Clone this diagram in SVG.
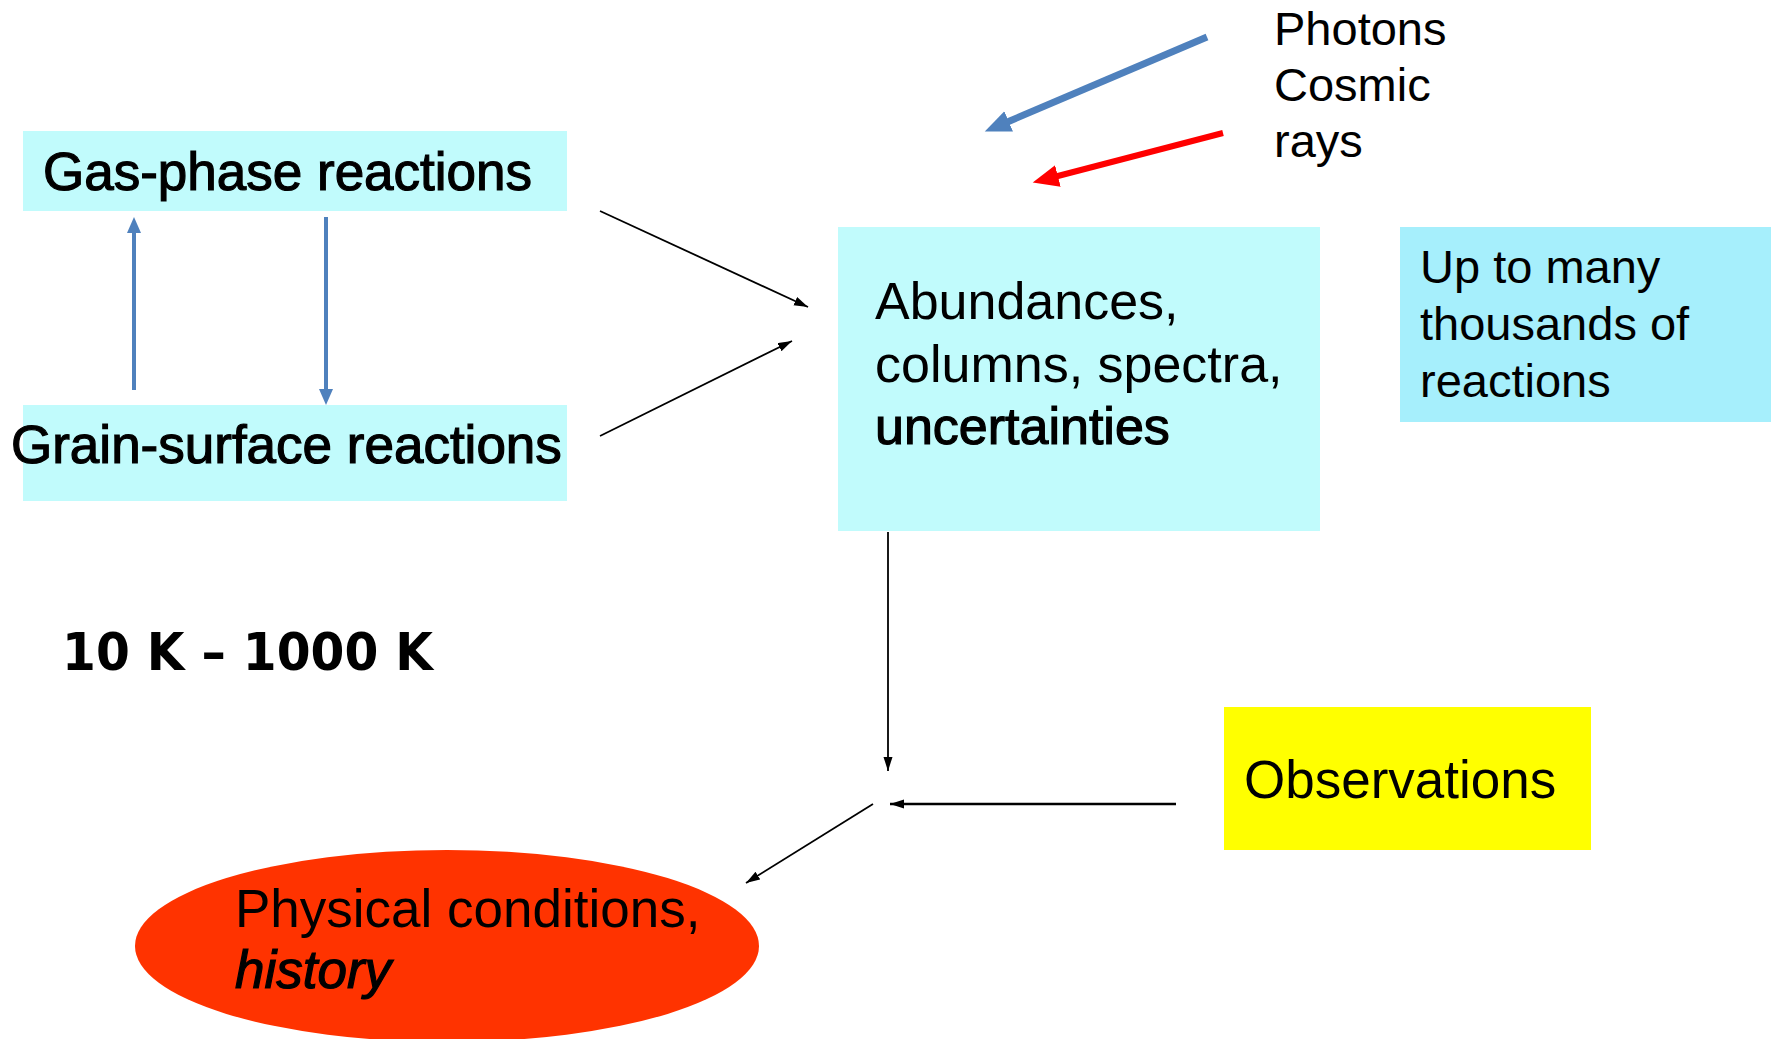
<svg xmlns="http://www.w3.org/2000/svg" width="1771" height="1039" viewBox="0 0 1771 1039">
<style>
.t{font-family:"Liberation Sans",Arial,sans-serif;fill:#000}
.h{stroke:#000;stroke-width:1.2}
.k{stroke:#000;fill:none}
.b{stroke:#4f81bd;fill:none}
</style>
<defs>
<marker id="mk" markerUnits="userSpaceOnUse" markerWidth="16" markerHeight="12" refX="14" refY="4.5" orient="auto"><path d="M0,0 L14,4.5 L0,9 z" fill="#000"/></marker>
<marker id="mb" markerUnits="userSpaceOnUse" markerWidth="18" markerHeight="16" refX="2" refY="7" orient="auto"><path d="M0,0 L16,7 L0,14 z" fill="#4f81bd"/></marker>
<marker id="mbb" markerUnits="userSpaceOnUse" markerWidth="28" markerHeight="24" refX="4" refY="11" orient="auto"><path d="M0,0 L26,11 L0,22 z" fill="#4f81bd"/></marker>
<marker id="mr" markerUnits="userSpaceOnUse" markerWidth="28" markerHeight="24" refX="4" refY="11" orient="auto"><path d="M0,0 L26,11 L0,22 z" fill="#ff0000"/></marker>
</defs>
<rect width="1771" height="1039" fill="#fff"/>
<g id="gas">
<rect x="23" y="131" width="544" height="80" fill="#c1fbfc"/>
<text class="t h" x="43" y="190" font-size="53">Gas-phase reactions</text>
</g>
<g id="grain">
<rect x="23" y="405" width="544" height="96" fill="#c1fbfc"/>
<text class="t h" x="11" y="463" font-size="53">Grain-surface reactions</text>
</g>
<g id="abund">
<rect x="838" y="227" width="482" height="304" fill="#c1fbfc"/>
<text class="t" x="875" y="319" font-size="52">Abundances,</text>
<text class="t" x="875" y="382" font-size="52">columns, spectra,</text>
<text class="t h" x="875" y="444" font-size="52">uncertainties</text>
</g>
<g id="upto">
<rect x="1400" y="227" width="371" height="195" fill="#a6effc"/>
<text class="t" x="1420" y="283" font-size="47">Up to many</text>
<text class="t" x="1420" y="340" font-size="47">thousands of</text>
<text class="t" x="1420" y="397" font-size="47">reactions</text>
</g>
<g id="sources">
<text class="t" x="1274" y="45" font-size="47">Photons</text>
<text class="t" x="1274" y="101" font-size="47">Cosmic</text>
<text class="t" x="1274" y="157" font-size="47">rays</text>
</g>
<g id="temp">
<text x="62" y="670" font-family="'Comic Sans MS','DejaVu Sans',sans-serif" font-weight="bold" font-size="52" textLength="371" lengthAdjust="spacingAndGlyphs">10 K – 1000 K</text>
</g>
<g id="obs">
<rect x="1224" y="707" width="367" height="143" fill="#ffff00"/>
<text class="t" x="1244" y="798" font-size="53">Observations</text>
</g>
<g id="phys">
<ellipse cx="447" cy="946" rx="312" ry="96" fill="#ff3300"/>
<text class="t" x="235" y="927" font-size="53">Physical conditions,</text>
<text class="t h" x="235" y="988" font-size="53" font-style="italic">history</text>
</g>
<g id="connectors">
<line class="b" x1="134" y1="390" x2="134" y2="231" stroke-width="4" marker-end="url(#mb)"/>
<line class="b" x1="326" y1="217" x2="326" y2="391" stroke-width="4" marker-end="url(#mb)"/>
<line class="b" x1="1207" y1="37" x2="1005" y2="123" stroke-width="7" marker-end="url(#mbb)"/>
<line x1="1223" y1="133" x2="1054" y2="177" stroke="#ff0000" stroke-width="6" marker-end="url(#mr)"/>
<line class="k" x1="600" y1="211" x2="808" y2="307" stroke-width="1.8" marker-end="url(#mk)"/>
<line class="k" x1="600" y1="436" x2="792" y2="341" stroke-width="1.8" marker-end="url(#mk)"/>
<line class="k" x1="888" y1="532" x2="888" y2="771" stroke-width="1.8" marker-end="url(#mk)"/>
<line class="k" x1="1176" y1="804" x2="890" y2="804" stroke-width="2.4" marker-end="url(#mk)"/>
<line class="k" x1="873" y1="804" x2="746" y2="883" stroke-width="1.8" marker-end="url(#mk)"/>
</g>
</svg>
